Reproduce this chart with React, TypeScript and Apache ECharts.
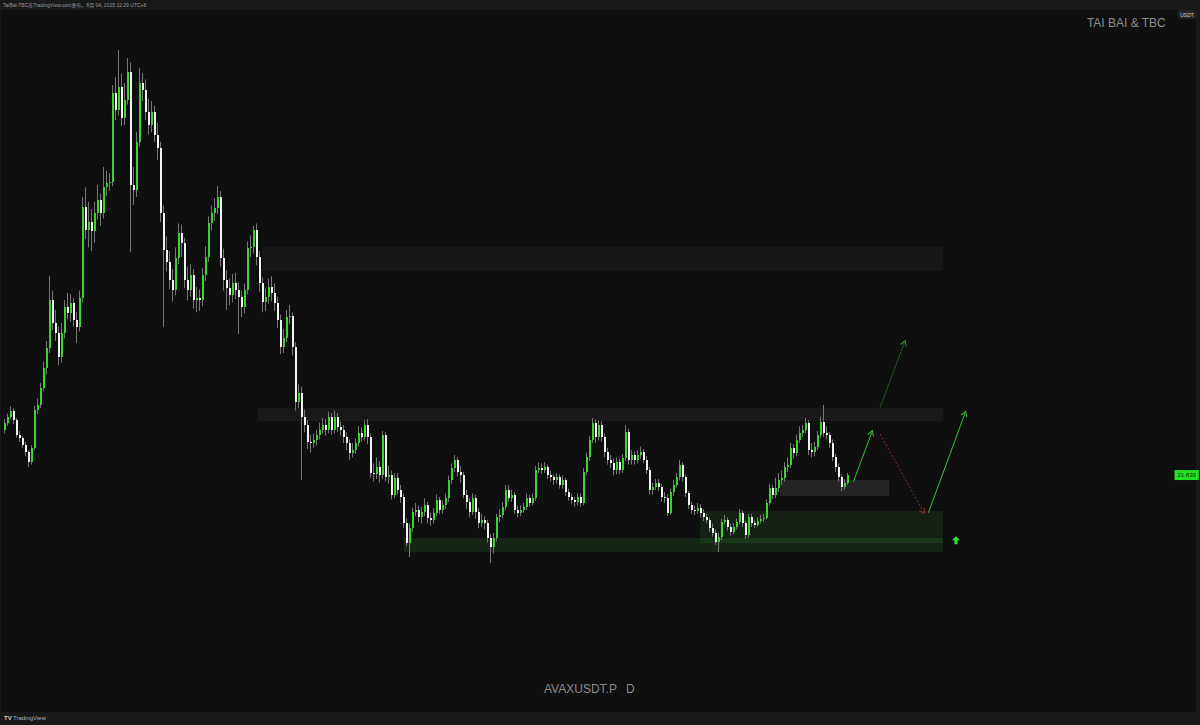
import React, { useEffect, useRef } from "react";
import * as echarts from "echarts";

// ---- data (AVAXUSDT.P, daily) ----
const symbol = "AVAXUSDT.P";
const timeframe = "D";
const brand = "TAI BAI & TBC";
const header = "TaiBai-TBC在TradingView.com发布，8月 04, 2025 12:29 UTC+8";
const quote = "USDT";

const firstOpen = 25.58;
const closes = [
  26.17, 26.67, 27.17, 26.42, 25.17, 24.92, 24.33, 23.75, 22.92, 24.08,
  27.25, 27.67, 29.08, 30.75, 32.42, 36.42, 34.5, 33.67, 31.67, 33.67,
  35.83, 35.33, 36.17, 34.75, 34.17, 36.58, 44.17, 42.25, 42.92, 42.17,
  43.67, 44.75, 43.67, 45.83, 46.17, 46.25, 53.67, 52.25, 54.17, 51.58,
  53.08, 55.42, 46.0, 45.58, 49.58, 54.5, 53.92, 52.08, 51.0, 52.08,
  50.17, 49.08, 43.67, 40.58, 39.58, 38.08, 37.25, 39.92, 42.0, 41.17,
  38.08, 37.25, 38.5, 36.42, 36.58, 36.42, 38.5, 40.0, 42.83, 43.67,
  44.08, 45.0, 39.92, 38.08, 37.42, 36.83, 37.83, 37.25, 36.67, 35.83,
  37.25, 40.75, 40.83, 42.25, 40.0, 37.83, 36.25, 36.67, 37.5, 37.0,
  36.17, 34.75, 32.5, 33.25, 35.0, 35.08, 32.5, 27.92, 28.67, 26.67,
  26.0, 24.58, 24.5, 24.75, 25.17, 25.58, 26.0, 25.58, 26.67, 25.58,
  26.67, 25.83, 25.58, 25.0, 24.5, 23.67, 23.92, 24.5, 25.33, 25.0,
  26.0, 25.0, 22.0, 21.92, 22.5, 21.83, 25.17, 21.67, 21.83, 20.17,
  21.58, 20.58, 20.0, 17.83, 16.17, 17.42, 18.75, 18.92, 18.33, 18.75,
  19.33, 18.25, 18.08, 18.67, 19.75, 18.92, 19.33, 19.92, 21.42, 22.42,
  23.08, 22.08, 21.83, 20.17, 19.58, 18.75, 19.92, 18.75, 17.83, 18.08,
  17.83, 16.58, 15.83, 16.58, 18.33, 18.5, 19.17, 20.58, 19.92, 20.17,
  18.92, 18.67, 18.92, 19.17, 19.92, 19.5, 19.92, 22.25, 22.42, 22.25,
  22.5, 21.83, 21.67, 21.42, 21.67, 21.0, 21.42, 20.42, 20.0, 19.75,
  19.58, 20.0, 19.5, 22.08, 23.33, 24.75, 26.17, 25.0, 26.0, 25.0,
  23.75, 23.08, 22.83, 22.25, 22.92, 22.25, 23.25, 25.42, 23.08, 23.5,
  23.08, 23.5, 23.75, 23.08, 22.25, 20.58, 20.83, 21.17, 20.83, 20.0,
  19.92, 18.67, 20.42, 21.0, 21.67, 22.67, 21.67, 20.33, 19.33, 18.92,
  18.83, 19.08, 18.67, 18.33, 18.08, 17.42, 17.0, 16.25, 16.67, 17.92,
  18.08, 17.5, 17.08, 17.5, 17.92, 18.67, 17.83, 16.83, 18.33, 17.83,
  17.67, 18.0, 18.17, 18.25, 19.5, 20.75, 20.17, 20.75, 21.42, 21.58,
  22.5, 22.67, 24.08, 23.67, 24.75, 25.33, 25.58, 26.17, 23.92, 23.75,
  24.17, 25.17, 26.25, 25.33, 25.17, 24.5, 23.33, 22.5, 21.67, 20.83,
  21.17, 21.83,
];
const highs = [
  26.5, 26.95, 27.55, 27.4, 26.6, 25.5, 25.1, 24.6, 23.9, 24.3,
  27.6, 28.2, 29.5, 31.3, 33.0, 38.4, 37.2, 35.6, 34.2, 34.5,
  36.4, 37.0, 36.9, 36.6, 35.4, 37.2, 45.0, 45.8, 44.6, 44.0,
  44.6, 46.0, 45.3, 47.5, 47.2, 47.0, 54.33, 55.0, 57.25, 55.3,
  54.5, 56.58, 56.2, 47.5, 50.4, 55.75, 55.33, 54.8, 53.2, 53.0,
  52.6, 51.2, 49.6, 44.3, 41.7, 40.5, 39.0, 40.8, 42.8, 42.7,
  41.6, 39.2, 39.4, 39.0, 37.5, 37.3, 39.1, 40.9, 43.4, 44.3,
  44.9, 45.92, 45.5, 40.7, 38.9, 38.2, 38.6, 38.7, 37.9, 37.2,
  37.8, 41.3, 41.8, 42.6, 42.8, 40.5, 38.3, 37.4, 38.2, 38.4,
  37.8, 36.7, 35.2, 34.0, 35.6, 36.0, 35.4, 32.9, 29.4, 29.2,
  27.3, 26.4, 25.2, 25.3, 25.6, 26.2, 26.6, 26.5, 27.1, 27.0,
  27.2, 27.0, 26.3, 26.0, 25.4, 24.8, 24.5, 24.9, 25.9, 25.8,
  26.4, 26.5, 25.3, 22.8, 23.3, 23.0, 25.5, 25.4, 22.6, 22.2,
  22.0, 22.0, 21.0, 20.3, 18.2, 17.8, 19.1, 19.5, 19.3, 19.2,
  19.9, 19.6, 18.7, 19.1, 20.2, 20.0, 19.7, 20.3, 21.8, 22.8,
  23.5, 23.3, 22.6, 22.1, 20.6, 19.9, 20.3, 20.2, 19.1, 18.6,
  18.4, 18.1, 16.9, 17.0, 18.6, 19.0, 19.6, 21.0, 21.0, 20.6,
  20.4, 19.3, 19.3, 19.5, 20.3, 20.2, 20.3, 22.6, 22.9, 22.8,
  22.9, 22.7, 22.2, 21.9, 22.0, 21.9, 21.8, 21.6, 20.7, 20.3,
  20.0, 20.3, 20.3, 22.4, 23.7, 25.1, 26.6, 26.5, 26.4, 26.3,
  25.3, 24.1, 23.5, 23.2, 23.3, 23.2, 23.6, 26.0, 25.7, 23.9,
  23.8, 23.9, 24.2, 24.0, 23.4, 22.5, 21.2, 21.5, 21.5, 21.1,
  20.4, 20.2, 20.7, 21.4, 22.0, 23.1, 22.9, 21.9, 20.5, 19.6,
  19.3, 19.5, 19.4, 19.0, 18.6, 18.3, 17.8, 17.3, 17.0, 18.2,
  18.5, 18.3, 17.8, 17.8, 18.2, 19.0, 18.9, 18.0, 18.6, 18.6,
  18.1, 18.3, 18.5, 18.6, 19.8, 21.1, 21.0, 21.6, 22.0, 22.2,
  22.9, 23.3, 24.5, 24.4, 25.2, 25.9, 26.0, 26.6, 26.4, 24.5,
  24.6, 25.5, 26.7, 27.67, 25.9, 25.4, 24.8, 23.6, 22.8, 21.9,
  21.5, 22.0,
];
const lows = [
  25.3, 25.95, 26.5, 26.1, 24.95, 24.6, 24.1, 23.4, 22.5, 22.7,
  23.9, 26.9, 27.4, 28.8, 30.2, 32.0, 33.9, 33.0, 31.0, 31.2,
  33.2, 34.8, 34.6, 34.2, 32.83, 33.8, 36.2, 41.5, 40.8, 40.5,
  41.2, 43.1, 42.6, 43.2, 45.1, 45.5, 45.9, 51.4, 51.8, 50.9,
  51.0, 52.7, 40.42, 44.33, 45.0, 49.2, 53.0, 51.4, 50.2, 50.4,
  49.6, 48.1, 42.9, 34.17, 38.8, 37.3, 36.3, 36.8, 39.4, 40.0,
  37.4, 36.4, 36.7, 35.7, 35.4, 35.5, 35.9, 38.0, 39.6, 42.2,
  43.0, 43.6, 39.2, 37.2, 35.6, 36.0, 36.2, 36.5, 33.58, 35.0,
  35.3, 36.9, 40.0, 40.3, 39.3, 37.1, 35.4, 35.5, 36.1, 36.3,
  35.5, 34.1, 31.9, 32.0, 32.9, 34.4, 31.8, 27.2, 27.4, 21.42,
  25.4, 24.0, 23.7, 24.1, 24.3, 24.8, 25.3, 25.1, 25.3, 25.2,
  25.3, 25.4, 25.1, 24.5, 23.9, 23.1, 23.3, 23.6, 24.2, 24.6,
  24.7, 24.4, 21.6, 21.3, 21.5, 21.2, 21.5, 21.3, 21.1, 19.8,
  19.9, 20.2, 19.5, 17.4, 15.9, 15.0, 17.1, 18.4, 17.9, 17.8,
  18.4, 17.8, 17.6, 17.8, 18.4, 18.6, 18.6, 19.0, 19.6, 21.1,
  22.1, 21.7, 21.2, 19.9, 19.0, 18.3, 18.5, 18.2, 17.4, 17.5,
  17.3, 16.2, 14.5, 15.3, 16.3, 17.9, 18.2, 18.9, 19.6, 19.6,
  18.6, 18.3, 18.4, 18.7, 18.9, 19.2, 19.3, 19.7, 22.0, 21.9,
  22.0, 21.5, 21.3, 21.0, 21.1, 20.7, 20.7, 20.1, 19.7, 19.4,
  19.2, 19.3, 19.2, 19.3, 21.8, 23.0, 24.5, 24.5, 24.7, 24.6,
  23.3, 22.7, 22.4, 21.8, 21.9, 21.9, 22.0, 23.0, 22.7, 22.7,
  22.7, 22.8, 23.2, 22.8, 21.9, 20.2, 20.2, 20.6, 20.5, 19.6,
  19.5, 18.4, 18.5, 20.1, 20.8, 21.4, 21.3, 20.0, 19.0, 18.6,
  18.5, 18.6, 18.3, 18.0, 17.8, 17.1, 16.7, 16.0, 15.42, 16.4,
  17.7, 17.2, 16.8, 16.9, 17.3, 17.7, 17.5, 16.5, 16.6, 17.5,
  17.4, 17.5, 17.8, 17.9, 18.1, 19.3, 19.8, 19.9, 20.4, 21.0,
  21.3, 22.1, 22.4, 23.2, 23.4, 24.5, 25.0, 25.3, 23.5, 23.3,
  23.4, 23.9, 24.9, 25.0, 24.8, 24.1, 23.0, 22.1, 21.3, 20.5,
  20.6, 21.0,
];

// zones: [fromBar, toBar, lowPrice, highPrice]
const resistanceZones = [
  [85.7, 312.7, 38.83, 40.83],
  [84.3, 312.7, 26.33, 27.42],
];
const retestZone = [258.3, 294.7, 20.08, 21.42];
const demandZones = [
  [231.7, 312.7, 16.17, 18.83],
  [133, 312.7, 15.42, 16.58],
];
// arrows: [fromBar, fromPrice, toBar, toPrice]
const arrowSolid = [
  [282.8, 21.28, 288.9, 25.36],
  [307.8, 18.69, 320.0, 26.98],
];
const arrowDotted = [291.7, 27.48, 299.8, 32.86];
const arrowDown = [291.7, 25.25, 306.1, 18.78];
const buyMark = [317, 16.4];

const TOTAL_SLOTS = 388;

const UP = "#3bd42d";
const DOWN = "#f2f2f2";
const WICK = "#767676";
const CHEVRON = "path://M0,10 L5,0 L10,10 L8.4,10 L5,3.2 L1.6,10 Z";
const BLOCK_UP = "path://M5,0 L10,5 L7,5 L7,10 L3,10 L3,5 L0,5 Z";

export default function App() {
  const ref = useRef<HTMLDivElement>(null);

  useEffect(() => {
    if (!ref.current) return;
    const chart = echarts.init(ref.current, undefined, { renderer: "svg" });

    const rows = closes.map((c, i) => [
      i,
      i === 0 ? firstOpen : closes[i - 1],
      c,
      lows[i],
      highs[i],
    ]);
    const lastClose = closes[closes.length - 1];

    const renderCandle = (_params: any, api: any) => {
      const i = api.value(0);
      const o = api.value(1);
      const c = api.value(2);
      const l = api.value(3);
      const h = api.value(4);
      const pO = api.coord([i, o]);
      const pC = api.coord([i, c]);
      const pH = api.coord([i, h]);
      const pL = api.coord([i, l]);
      const x = Math.round(pO[0]);
      const top = Math.min(pO[1], pC[1]);
      const height = Math.max(Math.abs(pO[1] - pC[1]), 1);
      const up = c >= o;
      return {
        type: "group",
        children: [
          {
            type: "line",
            shape: { x1: x - 0.5, y1: pH[1], x2: x - 0.5, y2: pL[1] },
            style: { stroke: WICK, lineWidth: 1 },
          },
          {
            type: "rect",
            shape: { x: x - 1, y: top, width: 2, height },
            style: { fill: up ? UP : DOWN },
          },
        ],
      };
    };

    const area = (z: number[], color: string) => [
      { coord: [z[0], z[3]], itemStyle: { color } },
      { coord: [z[1], z[2]] },
    ];
    const arrow = (a: number[], color: string, type: any, width: number) => [
      {
        coord: [a[0], a[1]],
        symbol: "none",
        lineStyle: { color, type, width },
      },
      {
        coord: [a[2], a[3]],
        symbol: CHEVRON,
        symbolSize: [7, 6],
        lineStyle: { color, type, width },
        itemStyle: { color },
      },
    ];

    chart.setOption({
      animation: false,
      backgroundColor: "#181818",
      grid: { left: 3.5, right: 32.5, top: 5, bottom: 12, containLabel: false },
      xAxis: {
        type: "value",
        min: -0.5,
        max: TOTAL_SLOTS - 0.5,
        show: false,
        splitLine: { show: false },
      },
      yAxis: {
        type: "value",
        min: 2,
        max: 61,
        show: false,
        splitLine: { show: false },
      },
      graphic: [
        {
          type: "rect",
          z: -10,
          shape: { x: 1, y: 10, width: 1195, height: 702 },
          style: { fill: "#0f0f0f" },
          silent: true,
        },
        {
          type: "text",
          z: 100,
          left: 3,
          top: 2,
          style: {
            text: header,
            fill: "#9a9a9a",
            fontSize: 5,
            fontFamily: "Liberation Sans, Noto Sans CJK SC, sans-serif",
          },
        },
        {
          type: "text",
          z: 100,
          right: 34,
          top: 17,
          style: {
            text: brand,
            fill: "#8e8e8e",
            fontSize: 12,
            fontFamily: "Liberation Sans, Arial, sans-serif",
          },
        },
        {
          type: "rect",
          z: 100,
          shape: { x: 1178, y: 10, width: 18, height: 9, r: 2 },
          style: { fill: "#242424" },
        },
        {
          type: "text",
          z: 101,
          x: 1187,
          y: 14.5,
          style: {
            text: quote,
            fill: "#cfcfcf",
            fontSize: 5,
            fontFamily: "Liberation Sans, sans-serif",
            align: "center",
            verticalAlign: "middle",
          },
        },
        {
          type: "text",
          z: 100,
          x: 544,
          y: 689,
          style: {
            text: symbol,
            fill: "#8c8c8c",
            fontSize: 12,
            fontFamily: "Liberation Sans, Arial, sans-serif",
            verticalAlign: "middle",
          },
        },
        {
          type: "text",
          z: 100,
          x: 626,
          y: 689,
          style: {
            text: timeframe,
            fill: "#8c8c8c",
            fontSize: 12,
            fontFamily: "Liberation Sans, Arial, sans-serif",
            verticalAlign: "middle",
          },
        },
        {
          type: "text",
          z: 100,
          x: 4,
          y: 718,
          style: {
            text: "TV",
            fill: "#d0d0d0",
            fontSize: 6,
            fontWeight: "bold",
            fontFamily: "Liberation Sans, sans-serif",
            verticalAlign: "middle",
          },
        },
        {
          type: "text",
          z: 100,
          x: 13,
          y: 718,
          style: {
            text: "TradingView",
            fill: "#b0b0b0",
            fontSize: 6,
            fontFamily: "Liberation Sans, sans-serif",
            verticalAlign: "middle",
          },
        },
      ],
      series: [
        {
          type: "line",
          z: 1,
          data: [],
          silent: true,
          markArea: {
            silent: true,
            label: { show: false },
            data: [
              area(resistanceZones[0], "rgba(255,255,255,0.03)"),
              area(resistanceZones[1], "rgba(255,255,255,0.045)"),
              area(retestZone, "rgba(255,255,255,0.09)"),
              area(demandZones[0], "rgba(70,200,70,0.10)"),
              area(demandZones[1], "rgba(70,200,70,0.12)"),
            ],
          },
        },
        {
          type: "custom",
          z: 3,
          renderItem: renderCandle,
          encode: { x: 0, y: [1, 2, 3, 4] },
          data: rows,
          silent: true,
        },
        {
          type: "line",
          z: 5,
          data: [],
          silent: true,
          markLine: {
            silent: true,
            label: { show: false },
            emphasis: { disabled: true },
            data: [
              arrow(arrowSolid[0], "#3cc23c", "solid", 1),
              arrow(arrowSolid[1], "#3cc23c", "solid", 1),
              arrow(arrowDotted, "#2f9a2f", "dotted", 1),
              arrow(arrowDown, "#8e3030", [2, 2], 1),
            ],
          },
          markPoint: {
            silent: true,
            label: { show: false },
            data: [
              {
                coord: buyMark,
                symbol: BLOCK_UP,
                symbolSize: [8, 8],
                itemStyle: { color: "#2fe02f" },
              },
            ],
          },
        },
        {
          type: "line",
          z: 6,
          data: [],
          silent: true,
          markLine: {
            silent: true,
            symbol: ["none", "none"],
            lineStyle: { color: "rgba(0,0,0,0)", width: 0 },
            emphasis: { disabled: true },
            label: {
              show: true,
              position: "end",
              distance: 7,
              formatter: lastClose.toFixed(3),
              backgroundColor: "#22e022",
              color: "#063006",
              fontSize: 6,
              padding: [2, 3],
              fontFamily: "Liberation Sans, sans-serif",
            },
            data: [{ yAxis: lastClose }],
          },
        },
      ],
    });

    return () => chart.dispose();
  }, []);

  return (
    <div
      ref={ref}
      style={{ position: "absolute", left: 0, top: 0, width: 1200, height: 725 }}
    />
  );
}
